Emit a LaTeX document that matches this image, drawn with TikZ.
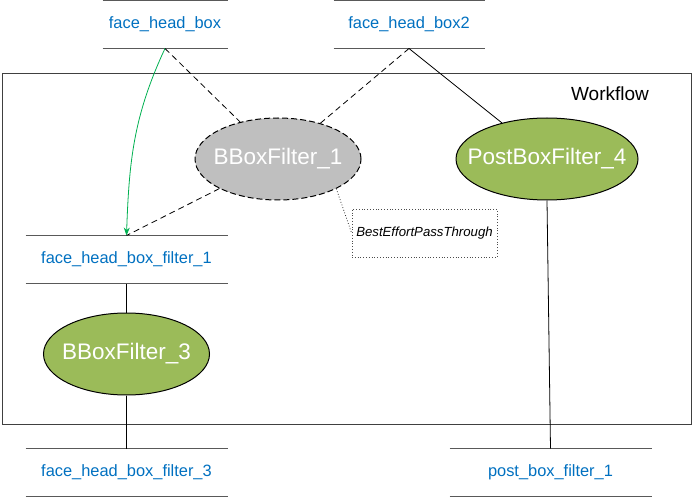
\documentclass[tikz,border=0pt]{standalone}
\usepackage{fontspec}
\setmainfont{Liberation Sans}
\usetikzlibrary{shapes.geometric,arrows.meta}
\definecolor{storeblue}{HTML}{0070C0}
\definecolor{filtergreen}{HTML}{9BBB59}
\definecolor{filtergray}{HTML}{BFBFBF}
\definecolor{flowgreen}{HTML}{00B050}
\newcommand{\fname}[1]{\makebox[0pt]{#1}}

\begin{document}
\begin{tikzpicture}[x=1pt,y=-1pt,line width=1pt,
  store/.style={inner sep=0pt,minimum height=47pt,text=storeblue,
    font=\fontsize{16.4}{19}\selectfont},
  storeline/.style={draw=black!65,line width=1.2pt},
  filter/.style={ellipse,draw=black,fill=filtergreen,text=white,inner sep=0pt,
    minimum width=166pt,minimum height=82pt,font=\fontsize{22.5}{26}\selectfont},
  link/.style={draw=black,line width=0.8pt},
  dlink/.style={link,dash pattern=on 6pt off 4pt}]
\useasboundingbox (0,0) rectangle (693,497);

% workflow frame
\draw[black!75] (2,74) rectangle (691,424);
\node[font=\fontsize{19}{22}\selectfont] (wflabel) at (610,94) {Workflow};

% data stores
\node[store,minimum width=124pt] (fhb) at (165,24.5) {face\_head\_box};
\node[store,minimum width=150pt] (fhb2) at (409,24.5) {face\_head\_box2};
\node[store,minimum width=201pt] (fhbf1) at (126.5,259.5) {face\_head\_box\_filter\_1};
\node[store,minimum width=201pt] (fhbf3) at (126.5,472.5) {face\_head\_box\_filter\_3};
\node[store,minimum width=201pt] (pbf1) at (550.5,472.5) {post\_box\_filter\_1};

\foreach \s in {fhb,fhb2,fhbf1,fhbf3,pbf1}{
  \draw[storeline] (\s.north west) -- (\s.north east);
  \draw[storeline] (\s.south west) -- (\s.south east);
}

% filters
\node[filter,fill=filtergray,dash pattern=on 6pt off 3pt] (bbf1) at (278,159) {\fname{BBoxFilter\_1}};
\node[filter,minimum width=182pt] (pbf4) at (547,159) {\fname{PostBoxFilter\_4}};
\node[filter] (bbf3) at (126.5,354) {\fname{BBoxFilter\_3}};

% annotation
\node[draw=black!70,dotted,line width=0.8pt,minimum width=145pt,minimum height=48pt,
  inner sep=0pt,font=\fontsize{13.2}{15}\itshape] (bept) at (424.5,233) {BestEffortPassThrough};

% connectors
\draw[dlink] (fhb.south) -- (bbf1);
\draw[dlink] (fhb2.south) -- (bbf1);
\draw[dlink] (bbf1) -- (fhbf1.north);
\draw[link] (fhb2.south) -- (pbf4);
\draw[link] (fhbf1.south) -- (bbf3);
\draw[link] (bbf3) -- (fhbf3.north);
\draw[link] (pbf4.south) -- (pbf1.north);
\draw[link,dotted,black!80] (bbf1.-27) -- (bept.west);
\draw[draw=flowgreen,line width=0.8pt,-{Stealth[length=8pt,width=6pt]}]
  (fhb.south) to[out=-115,in=88] (fhbf1.north);

\end{tikzpicture}
\end{document}
